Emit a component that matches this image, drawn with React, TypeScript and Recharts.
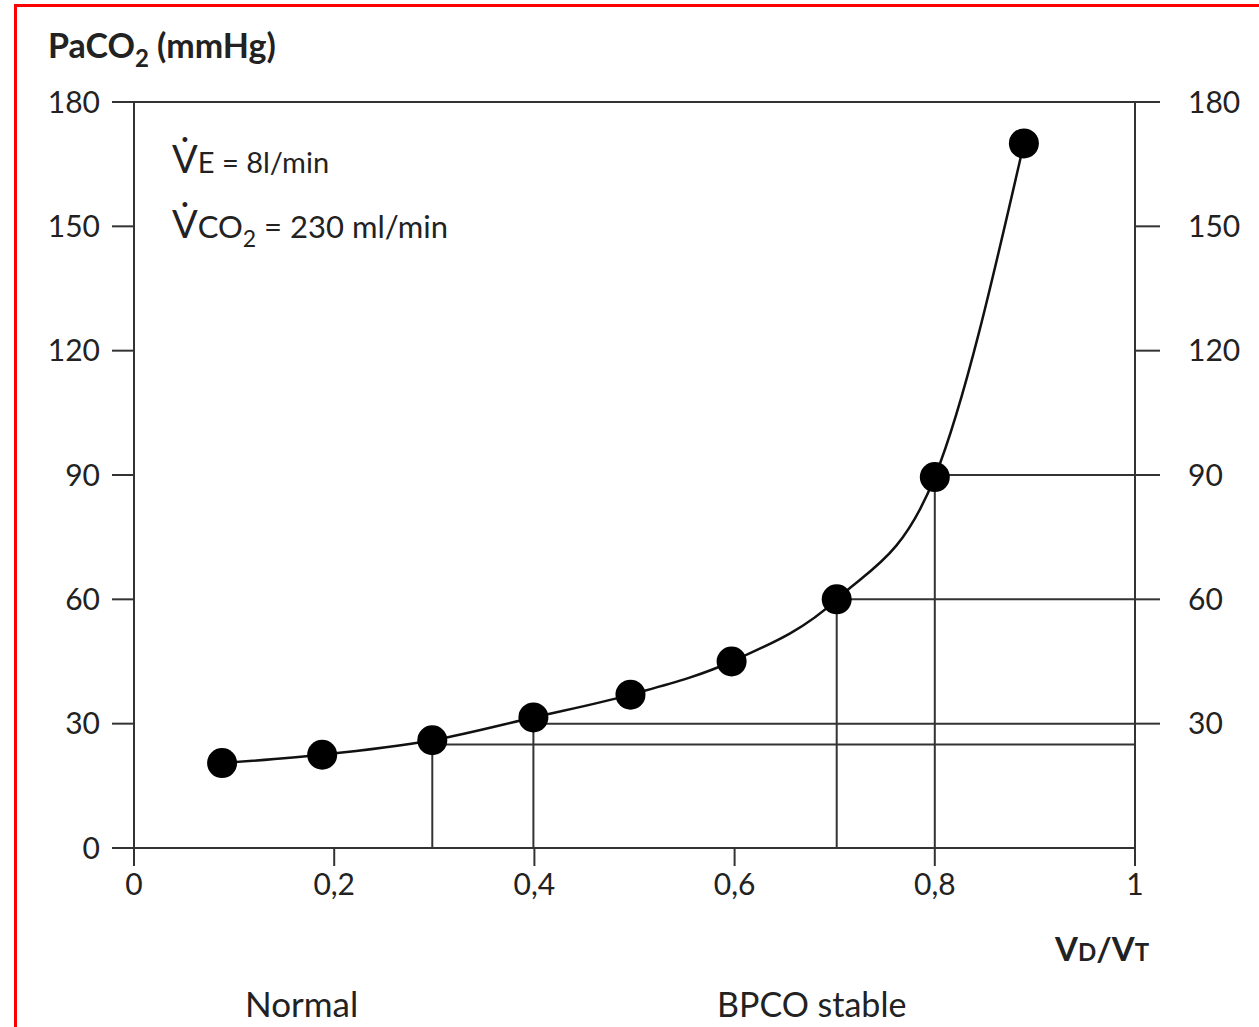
import React from 'react';
import { ComposedChart, Line, XAxis, YAxis, ReferenceLine } from 'recharts';

// VD/VT ratio vs PaCO2 (mmHg)
const vdvt = [0.088, 0.188, 0.298, 0.399, 0.496, 0.597, 0.702, 0.8, 0.889];
const paco2 = [20.5, 22.5, 26, 31.5, 37, 45, 60, 89.5, 170];

// guide lines: drop from point to x-axis, and across to the right axis
const guideX = [0.298, 0.399, 0.702, 0.8];
const guideTop = [26, 31.5, 60, 89.5];
const guideLevel = [25, 30, 60, 90];

const xTicks = [0, 0.2, 0.4, 0.6, 0.8, 1];
const leftTicks = [0, 30, 60, 90, 120, 150, 180];
const rightTicks = [30, 60, 90, 120, 150, 180];

const data = vdvt.map((x, i) => ({ x, y: paco2[i] }));

const FONT = 'Lato, "DejaVu Sans", sans-serif';
const INK = '#222';
const AXIS = '#333';

const fmtX = (v: number) => String(v).replace('.', ',');

export default function App() {
  const tickStyle = { fontSize: 30, fill: INK, fontFamily: FONT };
  return (
    <div style={{ position: 'absolute', left: 0, top: 0, width: 1259, height: 1027, overflow: 'hidden', background: '#fff', fontFamily: FONT, color: INK }}>
      {/* red frame */}
      <div style={{ position: 'absolute', left: 14, top: 4, width: 1260, height: 1040, borderTop: '3px solid #f00', borderLeft: '3px solid #f00' }} />

      <ComposedChart
        width={1259}
        height={1027}
        data={data}
        margin={{ top: 102, right: 0, bottom: 119, left: 0 }}
      >
        <XAxis
          dataKey="x"
          type="number"
          domain={[0, 1]}
          ticks={xTicks}
          tickFormatter={fmtX}
          height={60}
          tickSize={18}
          tickMargin={8}
          stroke={AXIS}
          strokeWidth={2}
          tick={tickStyle}
          interval={0}
        />
        <YAxis
          yAxisId="left"
          orientation="left"
          type="number"
          domain={[0, 180]}
          ticks={leftTicks}
          width={134}
          tickSize={22}
          tickMargin={12}
          stroke={AXIS}
          strokeWidth={2}
          tick={tickStyle}
          interval={0}
        />
        <YAxis
          yAxisId="right"
          orientation="right"
          type="number"
          domain={[0, 180]}
          ticks={rightTicks}
          width={124}
          tickSize={25}
          tickMargin={28}
          stroke={AXIS}
          strokeWidth={2}
          tick={tickStyle}
          interval={0}
        />
        <ReferenceLine yAxisId="left" y={180} stroke={AXIS} strokeWidth={2} />
        {guideX.map((gx, i) => (
          <ReferenceLine
            key={'v' + i}
            yAxisId="left"
            segment={[{ x: gx, y: 0 }, { x: gx, y: guideTop[i] }]}
            stroke={AXIS}
            strokeWidth={2}
          />
        ))}
        {guideX.map((gx, i) => (
          <ReferenceLine
            key={'h' + i}
            yAxisId="left"
            segment={[{ x: gx, y: guideLevel[i] }, { x: 1, y: guideLevel[i] }]}
            stroke={AXIS}
            strokeWidth={2}
          />
        ))}
        {/* invisible twin so the right axis gets its scale */}
        <Line
          yAxisId="right"
          type="monotone"
          dataKey="y"
          stroke="none"
          dot={false}
          activeDot={false}
          isAnimationActive={false}
        />
        <Line
          yAxisId="left"
          type="monotone"
          dataKey="y"
          stroke="#111"
          strokeWidth={2.5}
          dot={{ r: 15, fill: '#000', stroke: 'none' }}
          activeDot={false}
          isAnimationActive={false}
        />
      </ComposedChart>

      {/* axis title */}
      <div style={{ position: 'absolute', left: 48, top: 28, fontSize: 34, fontWeight: 700, lineHeight: '34px' }}>
        PaCO<sub style={{ fontSize: 24, verticalAlign: -9 }}>2</sub> (mmHg)
      </div>

      {/* conditions */}
      <div style={{ position: 'absolute', left: 172, top: 138, fontSize: 38, lineHeight: '40px' }}>
        V̇<span style={{ fontSize: 29 }}>E = 8l/min</span>
      </div>
      <div style={{ position: 'absolute', left: 172, top: 203, fontSize: 38, lineHeight: '40px' }}>
        V̇<span style={{ fontSize: 31 }}>CO<sub style={{ fontSize: 23, verticalAlign: -9 }}>2</sub> = 230 ml/min</span>
      </div>

      {/* x axis title */}
      <div style={{ position: 'absolute', left: 1055, top: 930, fontSize: 33, fontWeight: 700, lineHeight: '36px' }}>
        V<span style={{ fontSize: 24 }}>D</span>/V<span style={{ fontSize: 24 }}>T</span>
      </div>

      <div style={{ position: 'absolute', left: 245, top: 985, fontSize: 35, lineHeight: '36px' }}>Normal</div>
      <div style={{ position: 'absolute', left: 717, top: 986, fontSize: 34, lineHeight: '36px' }}>BPCO stable</div>
    </div>
  );
}
